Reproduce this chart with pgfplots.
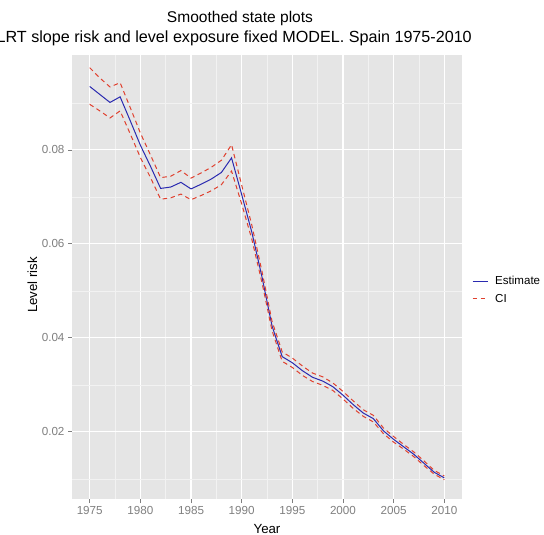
\documentclass[border=0pt]{standalone}
\usepackage{pgfplots}
\pgfplotsset{compat=1.18}
\usepackage{pgfplotstable}
\usepackage{fontspec}
\setmainfont{Liberation Sans}
\definecolor{panel}{HTML}{E5E5E5}
\definecolor{minorg}{HTML}{F2F2F2}
\definecolor{ticklab}{HTML}{7F7F7F}
\definecolor{estc}{HTML}{2A2AB0}
\definecolor{cic}{HTML}{E0402E}

\pgfplotstableread{
year est lo hi
1975 0.0935 0.0897 0.0975
1976 0.0918 0.0883 0.0953
1977 0.0901 0.0868 0.0934
1978 0.0913 0.0883 0.0943
1979 0.0862 0.0834 0.0890
1980 0.0810 0.0784 0.0836
1981 0.0765 0.0741 0.0789
1982 0.0718 0.0695 0.0741
1983 0.0721 0.0698 0.0744
1984 0.0731 0.0706 0.0756
1985 0.0717 0.0694 0.0740
1986 0.0727 0.0703 0.0751
1987 0.0738 0.0713 0.0763
1988 0.0752 0.0726 0.0778
1989 0.0783 0.0755 0.0811
1990 0.0705 0.0685 0.0725
1991 0.0625 0.0610 0.0640
1992 0.0530 0.0518 0.0542
1993 0.0425 0.0415 0.0435
1994 0.0360 0.0350 0.0370
1995 0.0347 0.0337 0.0357
1996 0.0330 0.0320 0.0340
1997 0.0316 0.0307 0.0325
1998 0.0308 0.0299 0.0317
1999 0.0296 0.0288 0.0304
2000 0.0278 0.0270 0.0286
2001 0.0258 0.0250 0.0266
2002 0.0240 0.0233 0.0247
2003 0.0228 0.0221 0.0235
2004 0.0202 0.0196 0.0208
2005 0.0184 0.0178 0.0190
2006 0.0168 0.0163 0.0173
2007 0.0152 0.0147 0.0157
2008 0.0133 0.0128 0.0138
2009 0.0114 0.0110 0.0118
2010 0.0102 0.0098 0.0106
}\datatable

\begin{document}
\begin{tikzpicture}
\begin{axis}[
  at={(0,0)}, anchor=south west,
  scale only axis, width=390bp, height=444bp,
  xmin=1973.25, xmax=2011.75, ymin=0.0057, ymax=0.1002,
  xtick={1975,1980,...,2010}, ytick={0.02,0.04,0.06,0.08},
  minor xtick={1977.5,1982.5,...,2007.5},
  minor ytick={0.01,0.03,0.05,0.07,0.09},
  grid=both,
  major grid style={white, line width=1.1bp},
  minor grid style={minorg, line width=0.55bp},
  axis background/.style={fill=panel},
  axis line style={draw=none},
  tick align=outside, tick pos=left,
  major tick length=4bp, minor tick length=0pt,
  tick style={ticklab, line width=0.8bp},
  ticklabel style={font=\fontsize{11.7}{12}\selectfont, text=ticklab},
  /pgf/number format/assume math mode=true,
  xticklabel style={/pgf/number format/1000 sep={}},
  yticklabel style={/pgf/number format/fixed, /pgf/number format/precision=2, /pgf/number format/fixed zerofill},
  xlabel={Year}, ylabel={Level risk},
  label style={font=\fontsize{13.3}{14}\selectfont},
  xlabel style={at={(axis description cs:0.5,-0.0766)}, anchor=base, inner sep=0pt},
  ylabel style={at={(axis description cs:-0.0897,0.482)}, anchor=base, inner sep=0pt},
  legend style={at={(axis description cs:1.0256,0.4707)}, anchor=west, draw=none, fill=none,
    font=\fontsize{11.6}{12}\selectfont, inner sep=0pt, row sep=8bp, column sep=7bp,
    nodes={inner sep=0pt}},
  legend cell align=left,
  legend image code/.code={\draw[#1] (0bp,0bp) -- (15bp,0bp);},
]
\addplot[estc, line width=1bp] table[x=year,y=est]{\datatable};
\addlegendentry{Estimate}
\addplot[cic, line width=1bp, dash pattern=on 4.5bp off 3.5bp] table[x=year,y=hi]{\datatable};
\addlegendentry{CI}
\addplot[cic, line width=1bp, dash pattern=on 4.5bp off 3.5bp, forget plot] table[x=year,y=lo]{\datatable};
\end{axis}
\node[anchor=base, inner sep=0pt, font=\fontsize{15.6}{16}\selectfont] at (168bp,476bp) {Smoothed state plots};
\node[anchor=base east, inner sep=0pt, font=\fontsize{16.2}{17}\selectfont] at (400bp,456bp) {LRT slope risk and level exposure fixed MODEL. Spain 1975-2010};
\pgfresetboundingbox
\useasboundingbox (-72bp,-36bp) rectangle (472bp,499bp);
\end{tikzpicture}
\end{document}
